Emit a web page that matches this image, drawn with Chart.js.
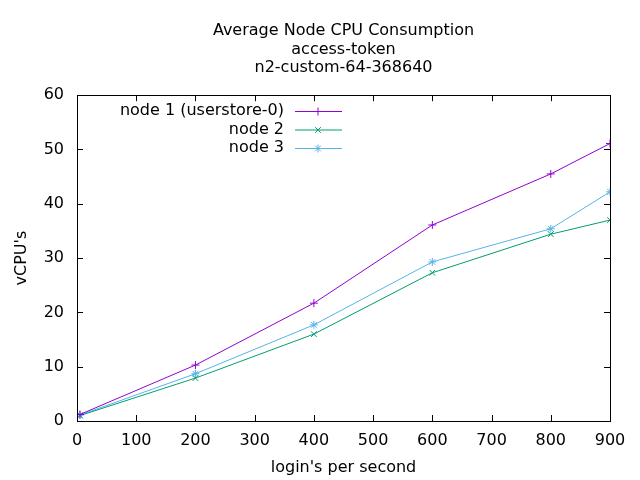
<!DOCTYPE html>
<html>
<head>
<meta charset="utf-8">
<script src="https://cdn.jsdelivr.net/npm/chart.js@4.4.1/dist/chart.umd.min.js"></script>
<style>
  html, body { margin: 0; padding: 0; background: #fff; }
  #wrap { width: 640px; height: 480px; }
</style>
</head>
<body>
<div id="wrap"><canvas id="myChart" width="640" height="480"></canvas></div>
<script>
const loginsPerSecond = [5, 200, 400, 600, 800, 900];
const node1 = [1.2, 10.3, 21.7, 36.1, 45.5, 51.1];
const node2 = [1.0, 7.9, 16.0, 27.3, 34.4, 37.0];
const node3 = [1.1, 8.7, 17.7, 29.3, 35.4, 42.2];
const seriesNames = ['node 1 (userstore-0)', 'node 2', 'node 3'];
const titleLines = ['Average Node CPU Consumption', 'access-token', 'n2-custom-64-368640'];

const FONT = 'DejaVu Sans, sans-serif';

const toPoints = (vals) => loginsPerSecond.map((x, i) => ({ x: x, y: vals[i] }));

// gnuplot style: inward ticks on all four sides + full frame
const frameTicks = {
  id: 'frameTicks',
  afterDraw(chart) {
    const { ctx, chartArea: a } = chart;
    const xs = chart.scales.x, ys = chart.scales.y;
    ctx.save();
    ctx.strokeStyle = '#000';
    ctx.lineWidth = 1;
    ctx.beginPath();
    xs.ticks.forEach(t => {
      const px = Math.round(xs.getPixelForValue(t.value)) + 0.5;
      ctx.moveTo(px, a.bottom); ctx.lineTo(px, a.bottom - 6);
      ctx.moveTo(px, a.top); ctx.lineTo(px, a.top + 6);
    });
    ys.ticks.forEach(t => {
      const py = Math.round(ys.getPixelForValue(t.value)) + 0.5;
      ctx.moveTo(a.left, py); ctx.lineTo(a.left + 6, py);
      ctx.moveTo(a.right, py); ctx.lineTo(a.right - 6, py);
    });
    ctx.stroke();
    ctx.strokeRect(Math.round(a.left) + 0.5, Math.round(a.top) + 0.5,
      Math.round(a.right - a.left), Math.round(a.bottom - a.top));
    ctx.restore();
  }
};

// gnuplot style key: right-aligned text then line sample with marker
const keyBox = {
  id: 'keyBox',
  afterDraw(chart) {
    const { ctx } = chart;
    ctx.save();
    ctx.font = '16px ' + FONT;
    ctx.textAlign = 'right';
    ctx.textBaseline = 'middle';
    chart.data.datasets.forEach((ds, i) => {
      const y = 111 + i * 18.5;
      ctx.fillStyle = '#000';
      ctx.fillText(ds.label, 284, y);
      ctx.strokeStyle = ds.borderColor;
      ctx.lineWidth = 1;
      ctx.beginPath();
      ctx.moveTo(295, y + 0.5); ctx.lineTo(342, y + 0.5);
      ctx.stroke();
      Chart.helpers.drawPoint(ctx, {
        pointStyle: ds.pointStyle, radius: 4, rotation: 0, borderWidth: 1
      }, 318, y + 0.5);
    });
    ctx.restore();
  }
};

const colors = ['#9400d3', '#009e73', '#56b4e9'];
const styles = ['cross', 'crossRot', 'star'];
const allSeries = [node1, node2, node3];

new Chart(document.getElementById('myChart').getContext('2d'), {
  type: 'line',
  data: {
    datasets: allSeries.map((vals, i) => ({
      label: seriesNames[i],
      data: toPoints(vals),
      borderColor: colors[i],
      backgroundColor: colors[i],
      borderWidth: 1,
      pointStyle: styles[i],
      pointRadius: 4,
      pointBorderWidth: 1,
      tension: 0,
      fill: false
    }))
  },
  options: {
    responsive: false,
    animation: false,
    devicePixelRatio: 1,
    layout: { padding: { left: 0, right: 30, top: 0, bottom: 0 } },
    plugins: {
      legend: { display: false },
      tooltip: { enabled: false },
      title: {
        display: true,
        fullSize: false,
        text: titleLines,
        color: '#000',
        font: { family: FONT, size: 16, weight: 'normal', lineHeight: 1.15 },
        padding: { top: 22, bottom: 18 }
      }
    },
    scales: {
      x: {
        type: 'linear',
        min: 0, max: 900,
        grid: { display: false, drawTicks: false },
        border: { display: false },
        ticks: { stepSize: 100, color: '#000', font: { family: FONT, size: 16 }, padding: 10, maxRotation: 0 },
        title: { display: true, text: "login's per second", color: '#000', font: { family: FONT, size: 16 }, padding: { top: 5, bottom: 3 } },
        afterFit(scale) { scale.height = 59; }
      },
      y: {
        min: 0, max: 60,
        grid: { display: false, drawTicks: false },
        border: { display: false },
        ticks: { stepSize: 10, color: '#000', font: { family: FONT, size: 16 }, padding: 13 },
        title: { display: true, text: "vCPU's", color: '#000', font: { family: FONT, size: 16 }, padding: { top: 12, bottom: 14 } },
        afterFit(scale) { scale.width = 77; }
      }
    }
  },
  plugins: [frameTicks, keyBox]
});
</script>
</body>
</html>
